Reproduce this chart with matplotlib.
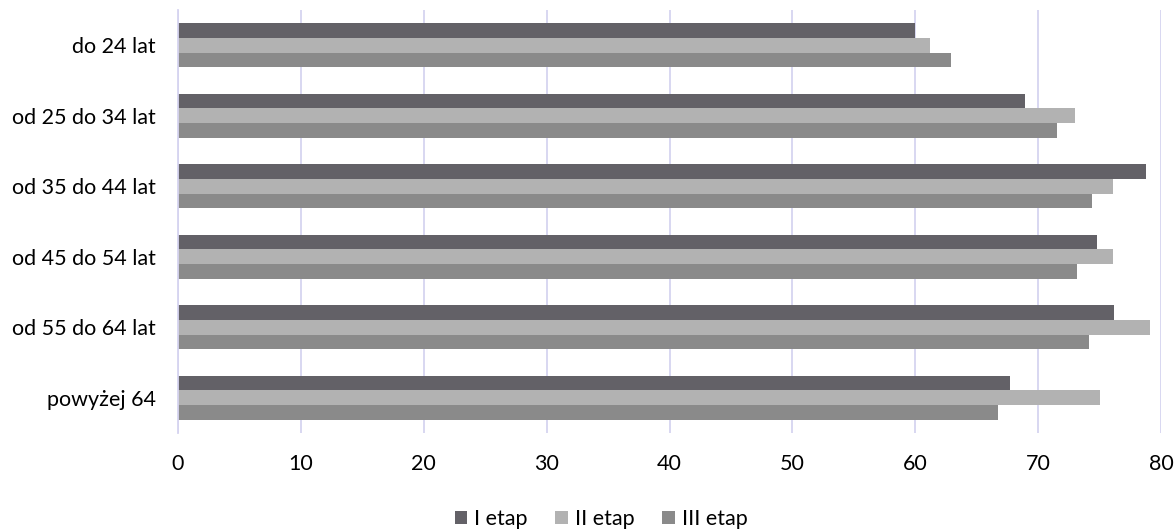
import numpy as np
import matplotlib.pyplot as plt

categories = ['do 24 lat', 'od 25 do 34 lat', 'od 35 do 44 lat', 'od 45 do 54 lat', 'od 55 do 64 lat', 'powyżej 64']
etap_1 = [60.0, 68.9, 78.8, 74.8, 76.2, 67.7]
etap_2 = [61.2, 73.0, 76.1, 76.1, 79.1, 75.0]
etap_3 = [62.9, 71.5, 74.4, 73.2, 74.1, 66.7]
series_names = ['I etap', 'II etap', 'III etap']
colors = ['#636167', '#b2b2b2', '#8a8a8a']

plt.rcParams['font.family'] = ['Lato', 'DejaVu Sans']

fig = plt.figure(figsize=(11.76, 5.3), dpi=100)
ax = fig.add_axes([178 / 1176, 1 - 433 / 530, (1161 - 178) / 1176, (433 - 10) / 530])

y = np.arange(len(categories))
h = 0.208
for k, (vals, name, c) in enumerate(zip([etap_1, etap_2, etap_3], series_names, colors)):
    ax.barh(y + (k - 1) * h, vals, height=h, color=c, label=name, zorder=2)

ax.set_xlim(0, 80)
ax.set_ylim(5.5, -0.5)
ax.set_xticks(range(0, 81, 10))
ax.set_yticks(y)
ax.set_yticklabels(categories)
ax.tick_params(axis='both', length=0, labelsize=15.5, colors='black')
ax.tick_params(axis='x', pad=15)
ax.tick_params(axis='y', pad=16)
ax.grid(axis='x', color='#d6d4f0', linewidth=1.3, zorder=0)
for s in ['top', 'right', 'bottom']:
    ax.spines[s].set_visible(False)
ax.spines['left'].set_color('#d6d4f0')
ax.spines['left'].set_linewidth(1.3)

fig.legend(loc='center', bbox_to_anchor=(601 / 1176, 1 - 519 / 530), ncol=3, frameon=False,
           fontsize=15.5, handlelength=0.6, handleheight=0.6, handletextpad=0.3, columnspacing=1.3)

fig.savefig('out.png', dpi=100)
